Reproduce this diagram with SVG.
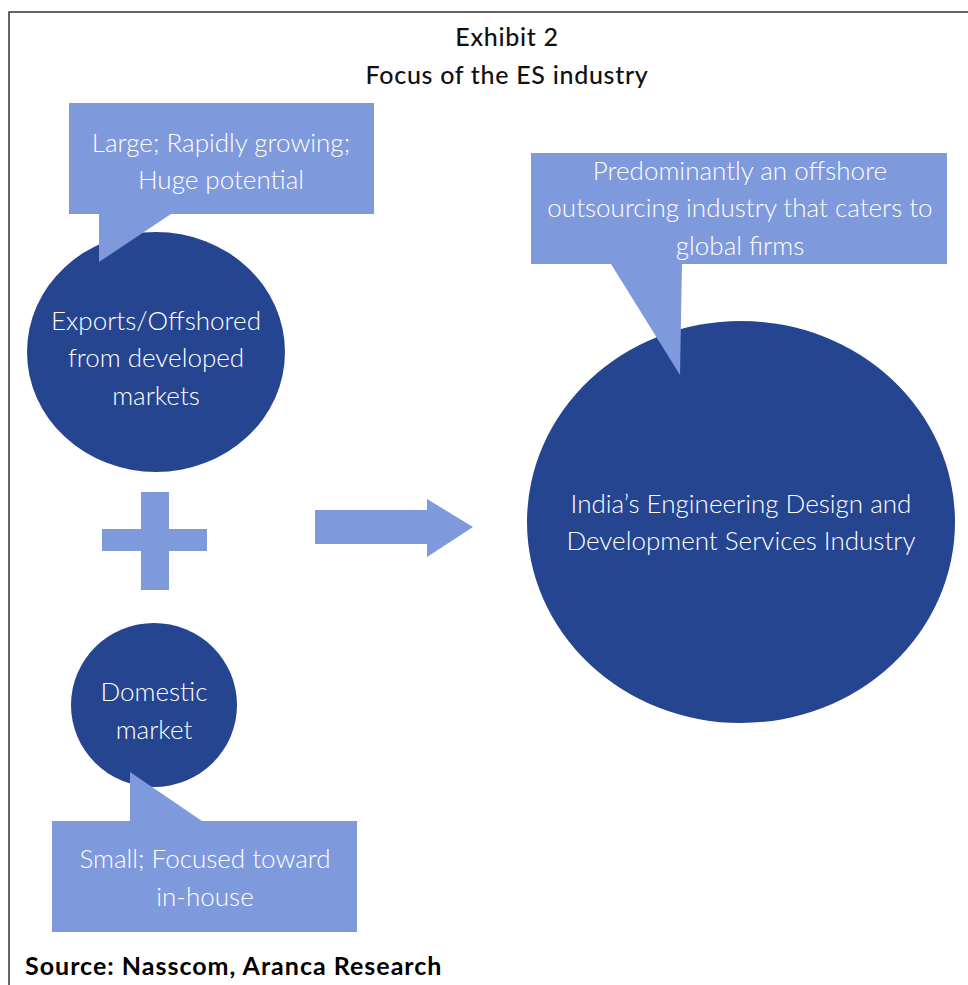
<svg xmlns="http://www.w3.org/2000/svg" width="968" height="985" viewBox="0 0 968 985">
  <style>
    .frame { fill: none; stroke: #333333; stroke-width: 1.5; }
    .title { font-family: Lato, "Liberation Sans", sans-serif; font-size: 25px; font-weight: 500; letter-spacing: 0.7px; fill: #111111; text-anchor: middle; }
    .source { font-family: Lato, "Liberation Sans", sans-serif; font-size: 25px; font-weight: 700; letter-spacing: 1px; fill: #000000; }
    .disc { fill: #254591; }
    .callout { fill: #7F99DD; }
    .shape { fill: #7F99DD; }
    .label { font-family: Lato, "Liberation Sans", sans-serif; font-size: 26px; font-weight: 300; fill: #ffffff; text-anchor: middle; }
  </style>

  <rect width="968" height="985" fill="#ffffff"/>
  <path class="frame" d="M9,985 V12 H968"/>

  <text class="title" x="507" y="46">Exhibit 2</text>
  <text class="title" x="507" y="84">Focus of the ES industry</text>

  <g id="exports-node">
    <ellipse class="disc" cx="156" cy="352" rx="129" ry="120"/>
    <text class="label" x="156" y="330">Exports/Offshored</text>
    <text class="label" x="156" y="367">from developed</text>
    <text class="label" x="156" y="405">markets</text>
  </g>

  <g id="domestic-node">
    <ellipse class="disc" cx="154" cy="705" rx="83" ry="82"/>
    <text class="label" x="154" y="701">Domestic</text>
    <text class="label" x="154" y="739">market</text>
  </g>

  <g id="industry-node">
    <ellipse class="disc" cx="741" cy="522" rx="214" ry="201"/>
    <text class="label" x="741" y="513">India’s Engineering Design and</text>
    <text class="label" x="741" y="550">Development Services Industry</text>
  </g>

  <g id="exports-callout">
    <path class="callout" d="M69,103 H374 V214 H171 L99,262 V214 H69 Z"/>
    <text class="label" x="221" y="152">Large; Rapidly growing;</text>
    <text class="label" x="221" y="189">Huge potential</text>
  </g>

  <g id="domestic-callout">
    <path class="callout" d="M52,821 H130 V772 L202,821 H357 V932 H52 Z"/>
    <text class="label" x="205" y="868">Small; Focused toward</text>
    <text class="label" x="205" y="906">in-house</text>
  </g>

  <g id="industry-callout">
    <path class="callout" d="M531,153 H947 V264 H682 L680,375 L611,264 H531 Z"/>
    <text class="label" x="740" y="180">Predominantly an offshore</text>
    <text class="label" x="740" y="217">outsourcing industry that caters to</text>
    <text class="label" x="740" y="255">global firms</text>
  </g>

  <g id="connectors">
    <path id="plus" class="shape" d="M141,492 H169 V529 H207 V551 H169 V590 H141 V551 H102 V529 H141 Z"/>
    <path id="arrow" class="shape" d="M315,510 H427 V499 L473,527 L427,557 V544 H315 Z"/>
  </g>

  <text class="source" x="25" y="975">Source: Nasscom, Aranca Research</text>
</svg>
